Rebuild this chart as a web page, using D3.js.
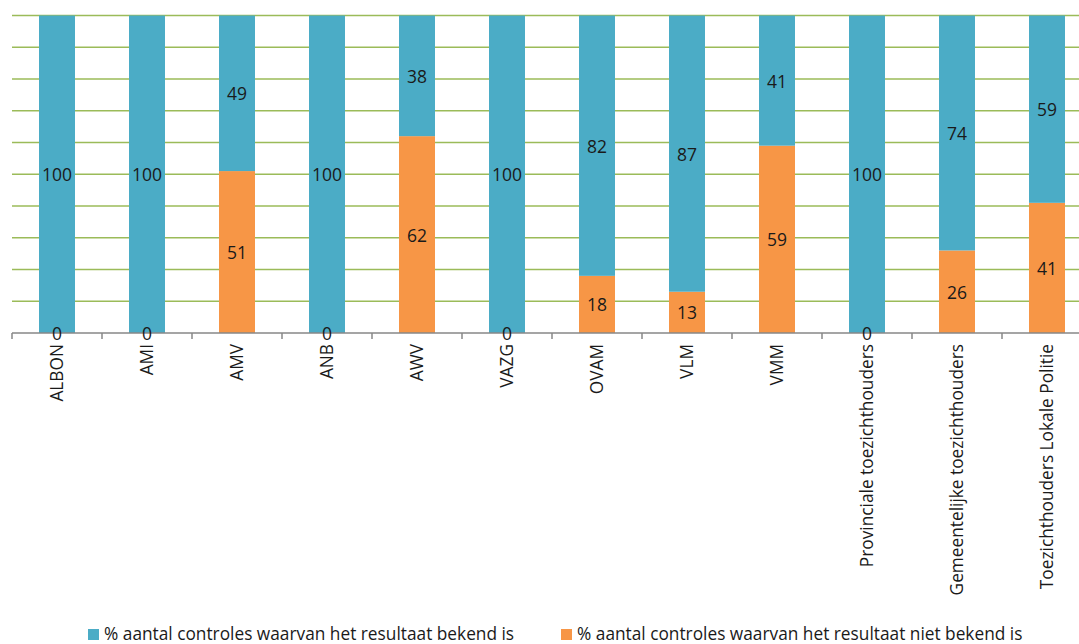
<!DOCTYPE html>
<html><head><meta charset="utf-8">
<script src="https://cdn.jsdelivr.net/npm/d3@7"></script>
<style>body{margin:0;background:#fff}svg{display:block}</style>
</head><body>
<svg id="c" width="1079" height="644"></svg>
<script>
const categories = ["ALBON","AMI","AMV","ANB","AWV","VAZG","OVAM","VLM","VMM","Provinciale toezichthouders","Gemeentelijke toezichthouders","Toezichthouders Lokale Politie"];
const bekend = [100,100,49,100,38,100,82,87,41,100,74,59];
const nietBekend = [0,0,51,0,62,0,18,13,59,0,26,41];
const seriesNames = ["% aantal controles waarvan het resultaat bekend is","% aantal controles waarvan het resultaat niet bekend is"];
const yTicks = [0,10,20,30,40,50,60,70,80,90,100];

const colors = ["#4BACC6","#F79646"];
const svg = d3.select("#c");
const plotLeft = 12, step = 90, plotTop = 15.5, plotBottom = 333;
const x = d3.scaleBand().domain(categories).range([plotLeft, plotLeft + step*categories.length]).paddingInner(0.6).paddingOuter(0.3);
const y = d3.scaleLinear().domain([0,100]).range([plotBottom, plotTop]);
const font = "'Open Sans', 'Noto Sans', sans-serif";

// gridlines
svg.append("g").selectAll("line").data(yTicks.filter(d=>d>0)).join("line")
  .attr("x1", plotLeft).attr("x2", 1079).attr("y1", d=>y(d)).attr("y2", d=>y(d))
  .attr("stroke", "#9BBB59").attr("stroke-width", 1.5);

const rows = categories.map((c,i)=>({cat:c, niet:nietBekend[i], bek:bekend[i]}));
// orange (bottom)
svg.append("g").selectAll("rect").data(rows).join("rect")
  .attr("x", d=>x(d.cat)).attr("width", x.bandwidth())
  .attr("y", d=>y(d.niet)).attr("height", d=>y(0)-y(d.niet))
  .attr("fill", colors[1]);
// blue (top)
svg.append("g").selectAll("rect").data(rows).join("rect")
  .attr("x", d=>x(d.cat)).attr("width", x.bandwidth())
  .attr("y", d=>y(d.niet+d.bek)).attr("height", d=>y(d.niet)-y(d.niet+d.bek))
  .attr("fill", colors[0]);

// axis
svg.append("line").attr("x1", plotLeft).attr("x2", 1079).attr("y1", plotBottom).attr("y2", plotBottom)
  .attr("stroke", "#878787").attr("stroke-width", 1.5);
const bounds = d3.range(categories.length+1).map(i=>plotLeft + i*x.step());
svg.append("g").selectAll("line").data(bounds).join("line")
  .attr("x1", d=>d).attr("x2", d=>d).attr("y1", plotBottom).attr("y2", plotBottom+6)
  .attr("stroke", "#878787").attr("stroke-width", 1.5);

// labels
const lab = svg.append("g").attr("font-family", font).attr("font-size", 17.5).attr("fill", "#1a1a1a").attr("text-anchor","middle");
lab.selectAll("text.b").data(rows).join("text").attr("class","b")
  .attr("x", d=>x(d.cat)+x.bandwidth()/2).attr("y", d=>y(d.niet + d.bek/2)).attr("dy","0.4em").text(d=>d.bek);
lab.selectAll("text.n").data(rows).join("text").attr("class","n")
  .attr("x", d=>x(d.cat)+x.bandwidth()/2).attr("y", d=>y(d.niet/2)).attr("dy","0.4em").text(d=>d.niet);

// category labels
svg.append("g").attr("font-family", font).attr("font-size", 17.3).attr("fill", "#1a1a1a")
  .selectAll("text").data(categories).join("text")
  .attr("transform", d=>`translate(${x(d)+x.bandwidth()/2},344) rotate(-90)`)
  .attr("text-anchor","end").attr("dy","0.35em").text(d=>d);

// legend
const leg = svg.append("g").attr("font-family", font).attr("font-size", 17.3).attr("fill","#1a1a1a");
const legX = [88, 561];
seriesNames.forEach((s,i)=>{
  leg.append("rect").attr("x", legX[i]).attr("y", 629).attr("width", 11).attr("height", 11).attr("fill", colors[i]);
  leg.append("text").attr("x", legX[i]+16).attr("y", 640).text(s);
});
</script>
</body></html>
